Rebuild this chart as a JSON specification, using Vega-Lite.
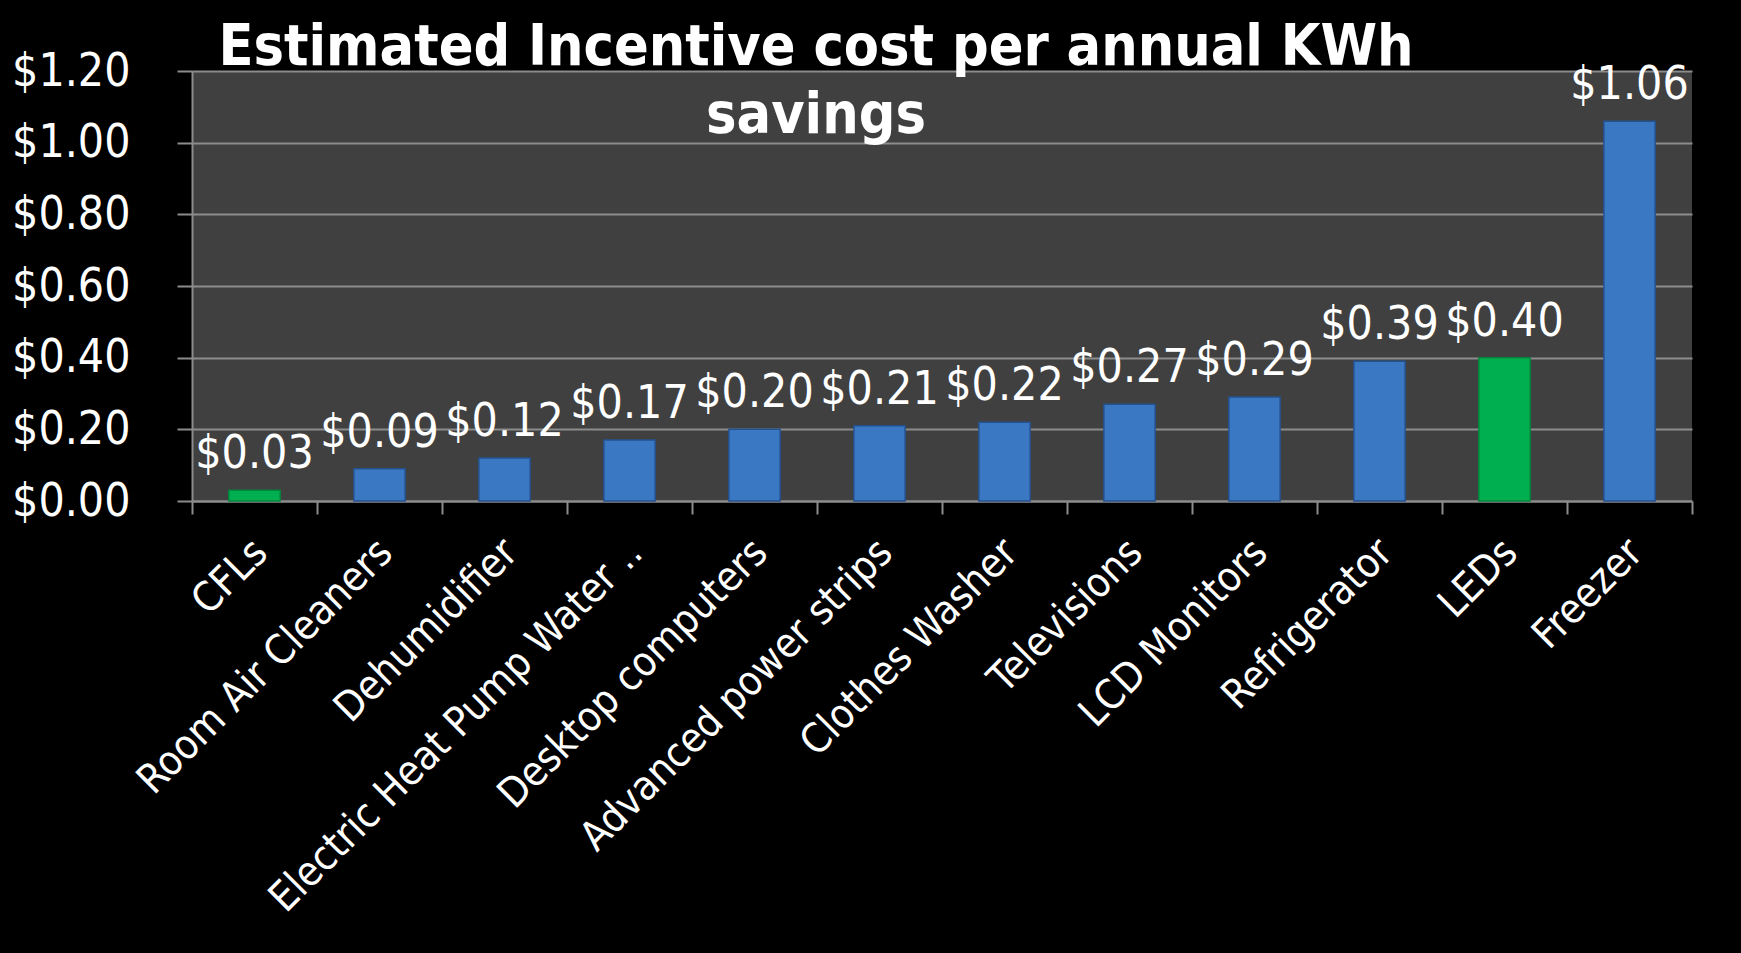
{
  "$schema": "https://vega.github.io/schema/vega-lite/v6.json",
  "width": 1500,
  "height": 430,
  "autosize": {"type": "none"},
  "padding": {"left": 192, "top": 71, "right": 49, "bottom": 452},
  "background": "#000000",
  "config": {
    "view": {"fill": "#404040", "stroke": null},
    "font": "DejaVu Sans Condensed"
  },
  "title": {
    "text": ["Estimated Incentive cost per annual KWh", "savings"],
    "font": "DejaVu Sans Condensed",
    "fontSize": 57,
    "fontWeight": "bold",
    "color": "#ffffff",
    "anchor": "middle",
    "frame": "group",
    "baseline": "alphabetic",
    "lineHeight": 68,
    "offset": 0,
    "dx": -126,
    "dy": 142
  },
  "data": {
    "values": [
      {"measure": "CFLs", "cost": 0.03, "group": "Lighting"},
      {"measure": "Room Air Cleaners", "cost": 0.09, "group": "Other"},
      {"measure": "Dehumidifier", "cost": 0.12, "group": "Other"},
      {"measure": "Electric Heat Pump Water ..", "cost": 0.17, "group": "Other"},
      {"measure": "Desktop computers", "cost": 0.20, "group": "Other"},
      {"measure": "Advanced power strips", "cost": 0.21, "group": "Other"},
      {"measure": "Clothes Washer", "cost": 0.22, "group": "Other"},
      {"measure": "Televisions", "cost": 0.27, "group": "Other"},
      {"measure": "LCD Monitors", "cost": 0.29, "group": "Other"},
      {"measure": "Refrigerator", "cost": 0.39, "group": "Other"},
      {"measure": "LEDs", "cost": 0.40, "group": "Lighting"},
      {"measure": "Freezer", "cost": 1.06, "group": "Other"}
    ]
  },
  "encoding": {
    "x": {
      "field": "measure",
      "type": "nominal",
      "sort": null,
      "scale": {"paddingInner": 0, "paddingOuter": 0},
      "axis": {
        "title": null,
        "grid": false,
        "tickBand": "extent",
        "tickSize": 13,
        "tickColor": "#8c8c8c",
        "tickWidth": 2,
        "domainColor": "#8c8c8c",
        "domainWidth": 2,
        "labelAngle": -45,
        "labelAlign": "right",
        "labelBaseline": "top",
        "labelPadding": 18,
        "labelOffset": -8,
        "labelFontSize": 41,
        "labelColor": "#ffffff",
        "labelLimit": 1000,
        "labelOverlap": false
      }
    },
    "y": {
      "field": "cost",
      "type": "quantitative",
      "scale": {"domain": [0, 1.2], "nice": false},
      "axis": {
        "title": null,
        "values": [0, 0.2, 0.4, 0.6, 0.8, 1.0, 1.2],
        "format": "$.2f",
        "tickSize": 15,
        "tickColor": "#8c8c8c",
        "tickWidth": 2,
        "domainColor": "#8c8c8c",
        "domainWidth": 2,
        "gridColor": "#8c8c8c",
        "gridWidth": 2,
        "labelPadding": 47,
        "labelFontSize": 46,
        "labelColor": "#ffffff",
        "labelBaseline": "middle",
        "labelFlush": false
      }
    }
  },
  "layer": [
    {
      "mark": {"type": "bar", "width": {"band": 0.41}, "strokeWidth": 1.5},
      "encoding": {
        "color": {
          "field": "group",
          "type": "nominal",
          "scale": {"domain": ["Lighting", "Other"], "range": ["#00B050", "#3B78C4"]},
          "legend": null
        },
        "stroke": {
          "field": "group",
          "type": "nominal",
          "scale": {"domain": ["Lighting", "Other"], "range": ["#00873D", "#24528F"]},
          "legend": null
        }
      }
    },
    {
      "mark": {"type": "text", "baseline": "alphabetic", "dy": -22, "fontSize": 46, "color": "#ffffff", "font": "DejaVu Sans Condensed"},
      "encoding": {
        "text": {"field": "cost", "type": "quantitative", "format": "$.2f"}
      }
    }
  ]
}
